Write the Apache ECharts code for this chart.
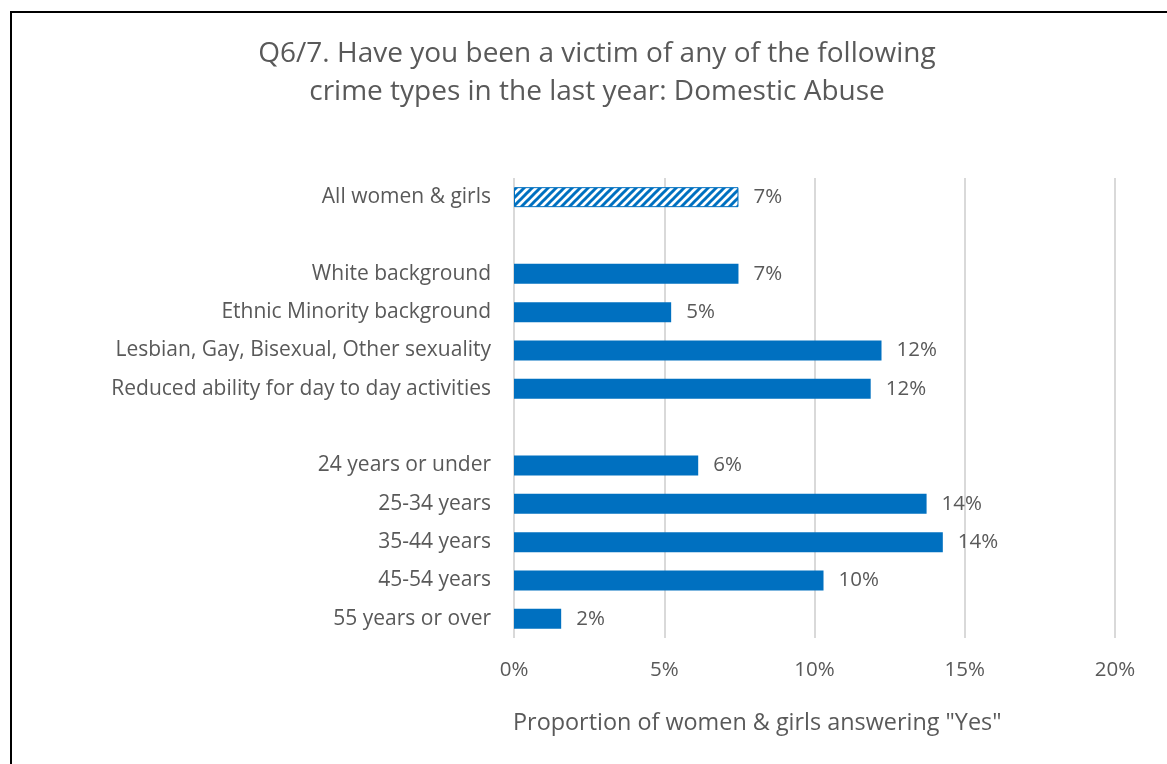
<!DOCTYPE html>
<html>
<head>
<meta charset="utf-8">
<script src="https://cdn.jsdelivr.net/npm/echarts@6/dist/echarts.min.js"></script>
<style>
  html, body { margin: 0; padding: 0; background: #fff; overflow: hidden; }
  .frame {
    position: absolute; left: 10px; top: 11px;
    width: 1200px; height: 800px;
    border-left: 2px solid #000; border-top: 2px solid #000;
  }
  #chart { position: absolute; left: 0; top: 0; width: 1167px; height: 764px; }
</style>
</head>
<body>
<div class="frame"></div>
<div id="chart"></div>
<script>
// categories top to bottom, blanks are the gaps between groups
const categories = [
  'All women & girls', ' ',
  'White background', 'Ethnic Minority background',
  'Lesbian, Gay, Bisexual, Other sexuality', 'Reduced ability for day to day activities',
  '  ',
  '24 years or under', '25-34 years', '35-44 years', '45-54 years', '55 years or over'
];
// percent answering yes
const values = [7.47, null, 7.47, 5.23, 12.23, 11.87, null, 6.13, 13.73, 14.27, 10.3, 1.57];
const xTicks = [0, 5, 10, 15, 20];

const blue = '#0070C0';
const grey = '#595959';
const font = '"Open Sans", sans-serif';

// hatch for the "all women" bar
function hatch() {
  const c = document.createElement('canvas');
  c.width = 8; c.height = 8;
  const g = c.getContext('2d');
  g.fillStyle = '#fff';
  g.fillRect(0, 0, 8, 8);
  g.strokeStyle = blue;
  g.lineWidth = 3;
  [[-4, 4, 4, -4], [0, 8, 8, 0], [4, 12, 12, 4]].forEach(l => {
    g.beginPath(); g.moveTo(l[0], l[1]); g.lineTo(l[2], l[3]); g.stroke();
  });
  return c;
}

const chart = echarts.init(document.getElementById('chart'));

const barData = values.map((v, i) => {
  if (i === 0) {
    return {
      value: v,
      itemStyle: { color: { image: hatch(), repeat: 'repeat' }, borderColor: blue, borderWidth: 1 }
    };
  }
  return v;
});

chart.setOption({
  animation: false,
  title: {
    text: 'Q6/7. Have you been a victim of any of the following\ncrime types in the last year: Domestic Abuse',
    left: 592, top: 30, textAlign: 'center',
    textStyle: { color: grey, fontFamily: font, fontWeight: 'normal', fontSize: 28, lineHeight: 38 }
  },
  grid: { left: 514, right: 52, top: 178, bottom: 126 },
  xAxis: {
    type: 'value', min: 0, max: 20, interval: 5,
    axisLine: { show: false }, axisTick: { show: false },
    splitLine: { lineStyle: { color: '#d9d9d9', width: 2 } },
    axisLabel: {
      color: grey, fontFamily: font, fontSize: 20.5, margin: 22,
      formatter: v => xTicks.includes(v) ? v + '%' : ''
    }
  },
  yAxis: {
    type: 'category', data: categories, inverse: true,
    axisLine: { show: false }, axisTick: { show: false },
    axisLabel: { color: grey, fontFamily: font, fontSize: 21, margin: 23, padding: [4, 0, 0, 0] }
  },
  graphic: [{
    type: 'text', left: 513, top: 712,
    style: { text: 'Proportion of women & girls answering "Yes"', fill: grey, font: '23.4px ' + font }
  }],
  series: [{
    type: 'bar', data: barData, barWidth: 20,
    itemStyle: { color: blue },
    label: {
      show: true, position: 'right', distance: 15, padding: [4, 0, 0, 0],
      color: grey, fontFamily: font, fontSize: 20.5,
      formatter: p => p.value == null ? '' : Math.round(p.value) + '%'
    }
  }]
});
</script>
</body>
</html>
